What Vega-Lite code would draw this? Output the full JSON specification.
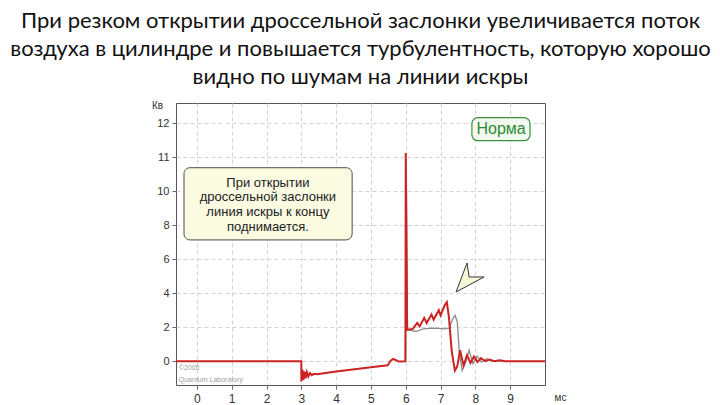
{
  "$schema": "https://vega.github.io/schema/vega-lite/v6.json",
  "autosize": "none",
  "width": 369,
  "height": 282,
  "padding": {"left": 176, "top": 103, "right": 175, "bottom": 20},
  "background": "white",
  "config": {
    "view": {"stroke": "#555555", "strokeWidth": 1},
    "axis": {"labelFont": "Liberation Sans", "labelColor": "#333333", "labelFontSize": 11, "tickColor": "#666666", "tickSize": 4, "domain": false, "gridColor": "#d2d2d2", "gridDash": [4, 3], "gridWidth": 1}
  },
  "title": {
    "text": ["При резком открытии дроссельной заслонки увеличивается поток", "воздуха в цилиндре и повышается турбулентность, которую хорошо", "видно по шумам на линии искры"],
    "font": "Lato",
    "fontSize": 22,
    "fontWeight": "normal",
    "color": "#111111",
    "lineHeight": 28,
    "anchor": "middle",
    "baseline": "bottom",
    "offset": -11
  },
  "datasets": {
    "red": [
      {"i": 0, "t": -0.6, "v": 0}, {"i": 1, "t": 3.0, "v": 0}, {"i": 2, "t": 3.0, "v": -1.2},
      {"i": 3, "t": 3.03, "v": -0.5}, {"i": 4, "t": 3.06, "v": -1.1}, {"i": 5, "t": 3.09, "v": -0.6},
      {"i": 6, "t": 3.12, "v": -1.0}, {"i": 7, "t": 3.16, "v": -0.64}, {"i": 8, "t": 3.2, "v": -0.9},
      {"i": 9, "t": 3.25, "v": -0.7}, {"i": 10, "t": 3.3, "v": -0.82}, {"i": 11, "t": 3.36, "v": -0.74},
      {"i": 12, "t": 3.45, "v": -0.76}, {"i": 13, "t": 4.0, "v": -0.6}, {"i": 14, "t": 5.0, "v": -0.35},
      {"i": 15, "t": 5.48, "v": -0.24}, {"i": 16, "t": 5.56, "v": 0.02}, {"i": 17, "t": 5.64, "v": 0.14},
      {"i": 18, "t": 5.72, "v": 0.06}, {"i": 19, "t": 5.8, "v": -0.02}, {"i": 20, "t": 5.99, "v": 0.0},
      {"i": 21, "t": 6.0, "v": 12.25}, {"i": 22, "t": 6.04, "v": 1.85}, {"i": 23, "t": 6.2, "v": 1.9},
      {"i": 24, "t": 6.33, "v": 2.25}, {"i": 25, "t": 6.4, "v": 2.05}, {"i": 26, "t": 6.53, "v": 2.55},
      {"i": 27, "t": 6.6, "v": 2.25}, {"i": 28, "t": 6.74, "v": 2.75}, {"i": 29, "t": 6.8, "v": 2.45},
      {"i": 30, "t": 6.95, "v": 3.0}, {"i": 31, "t": 7.0, "v": 2.7}, {"i": 32, "t": 7.12, "v": 3.3},
      {"i": 33, "t": 7.18, "v": 3.48}, {"i": 34, "t": 7.24, "v": 2.6}, {"i": 35, "t": 7.32, "v": 0.6},
      {"i": 36, "t": 7.41, "v": -0.55}, {"i": 37, "t": 7.48, "v": -0.3}, {"i": 38, "t": 7.56, "v": 0.65},
      {"i": 39, "t": 7.66, "v": -0.25}, {"i": 40, "t": 7.76, "v": 0.35}, {"i": 41, "t": 7.86, "v": -0.1},
      {"i": 42, "t": 7.96, "v": 0.28}, {"i": 43, "t": 8.06, "v": -0.05}, {"i": 44, "t": 8.16, "v": 0.18},
      {"i": 45, "t": 8.28, "v": 0.0}, {"i": 46, "t": 8.4, "v": 0.1}, {"i": 47, "t": 8.55, "v": 0.0},
      {"i": 48, "t": 8.7, "v": 0.05}, {"i": 49, "t": 8.85, "v": 0.0}, {"i": 50, "t": 10.0, "v": 0.0}
    ],
    "gray": [
      {"i": 0, "t": 5.99, "v": 0.0}, {"i": 1, "t": 6.02, "v": 10.0}, {"i": 2, "t": 6.05, "v": 1.85},
      {"i": 3, "t": 6.3, "v": 1.75}, {"i": 4, "t": 6.5, "v": 1.9}, {"i": 5, "t": 6.8, "v": 1.95},
      {"i": 6, "t": 7.1, "v": 1.9}, {"i": 7, "t": 7.25, "v": 1.95}, {"i": 8, "t": 7.35, "v": 2.5},
      {"i": 9, "t": 7.42, "v": 2.7}, {"i": 10, "t": 7.48, "v": 2.3}, {"i": 11, "t": 7.54, "v": 0.5},
      {"i": 12, "t": 7.62, "v": -0.55}, {"i": 13, "t": 7.7, "v": -0.2}, {"i": 14, "t": 7.82, "v": 0.65},
      {"i": 15, "t": 7.93, "v": -0.15}, {"i": 16, "t": 8.05, "v": 0.3}, {"i": 17, "t": 8.18, "v": -0.05},
      {"i": 18, "t": 8.32, "v": 0.15}, {"i": 19, "t": 8.48, "v": 0.0}, {"i": 20, "t": 8.6, "v": 0.05},
      {"i": 21, "t": 8.8, "v": 0.0}
    ]
  },
  "layer": [
    {
      "data": {"values": [{"x1": -0.37, "x2": 4.46, "y1": 11.39, "y2": 7.14}]},
      "mark": {"type": "rect", "fill": "#fbfbe1", "stroke": "#4a4a4a", "strokeWidth": 1, "cornerRadius": 6},
      "encoding": {
        "x": {"field": "x1", "type": "quantitative", "scale": {"domain": [-0.6, 10], "nice": false, "zero": false}, "axis": {"values": [0, 1, 2, 3, 4, 5, 6, 7, 8, 9], "labelFontSize": 12, "labelPadding": 4, "title": "мс", "titleFont": "Liberation Sans", "titleFontSize": 10, "titleFontWeight": "normal", "titleColor": "#333333", "titleX": 384, "titleY": 12, "titleAlign": "center", "titleBaseline": "middle"}},
        "x2": {"field": "x2"},
        "y": {"field": "y1", "type": "quantitative", "scale": {"domain": [-1.4, 15.2], "nice": false, "zero": false}, "axis": {"values": [0, 2, 4, 6, 8, 10, 12, 14], "labelExpr": "datum.value == 12 ? '11' : datum.value == 14 ? '12' : datum.label", "labelPadding": 3, "title": "Кв", "titleFont": "Liberation Sans", "titleFontSize": 10, "titleFontWeight": "normal", "titleColor": "#333333", "titleAngle": 0, "titleX": -19, "titleY": 2, "titleAlign": "center", "titleBaseline": "middle"}},
        "y2": {"field": "y2"}
      }
    },
    {
      "data": {"values": [
        {"x": 2.04, "y": 10.52, "txt": "При открытии"},
        {"x": 2.04, "y": 9.64, "txt": "дроссельной заслонки"},
        {"x": 2.04, "y": 8.76, "txt": "линия искры к концу"},
        {"x": 2.04, "y": 7.88, "txt": "поднимается."}
      ]},
      "mark": {"type": "text", "font": "Liberation Sans", "fontSize": 13, "color": "#222222", "align": "center", "baseline": "middle"},
      "encoding": {
        "x": {"field": "x", "type": "quantitative"},
        "y": {"field": "y", "type": "quantitative"},
        "text": {"field": "txt"}
      }
    },
    {
      "data": {"values": [{"x1": 7.9, "x2": 9.57, "y1": 14.34, "y2": 12.98}]},
      "mark": {"type": "rect", "fill": "#f2f9ee", "stroke": "#3d8f3d", "strokeWidth": 1.2, "cornerRadius": 6},
      "encoding": {
        "x": {"field": "x1", "type": "quantitative"},
        "x2": {"field": "x2"},
        "y": {"field": "y1", "type": "quantitative"},
        "y2": {"field": "y2"}
      }
    },
    {
      "data": {"values": [{"x": 8.74, "y": 13.66, "txt": "Норма"}]},
      "mark": {"type": "text", "font": "Liberation Sans", "fontSize": 16, "color": "#2e8a35", "align": "center", "baseline": "middle"},
      "encoding": {
        "x": {"field": "x", "type": "quantitative"},
        "y": {"field": "y", "type": "quantitative"},
        "text": {"field": "txt"}
      }
    },
    {
      "data": {"values": [{"x": -0.52, "y": -0.42, "txt": "©2005"}, {"x": -0.52, "y": -1.1, "txt": "Quantum Laboratory"}]},
      "mark": {"type": "text", "font": "Liberation Sans", "fontSize": 7, "color": "#a0a0a0", "align": "left", "baseline": "middle"},
      "encoding": {
        "x": {"field": "x", "type": "quantitative"},
        "y": {"field": "y", "type": "quantitative"},
        "text": {"field": "txt"}
      }
    },
    {
      "data": {"name": "gray"},
      "mark": {"type": "line", "color": "#8c8c8c", "strokeWidth": 1.3},
      "encoding": {
        "x": {"field": "t", "type": "quantitative"},
        "y": {"field": "v", "type": "quantitative"},
        "order": {"field": "i", "type": "quantitative"}
      }
    },
    {
      "data": {"name": "red"},
      "mark": {"type": "line", "color": "#cc2222", "strokeWidth": 2},
      "encoding": {
        "x": {"field": "t", "type": "quantitative"},
        "y": {"field": "v", "type": "quantitative"},
        "order": {"field": "i", "type": "quantitative"}
      }
    },
    {
      "data": {"values": [{"x": 7.79, "y": 4.96}]},
      "mark": {"type": "point", "shape": "M-0.07,-0.93 L0.07,0 L1.07,0 L-0.8,1.0 Z", "size": 900, "filled": true, "fill": "#f6f6d8", "stroke": "#333333", "strokeWidth": 1, "opacity": 1},
      "encoding": {
        "x": {"field": "x", "type": "quantitative"},
        "y": {"field": "y", "type": "quantitative"}
      }
    }
  ]
}
